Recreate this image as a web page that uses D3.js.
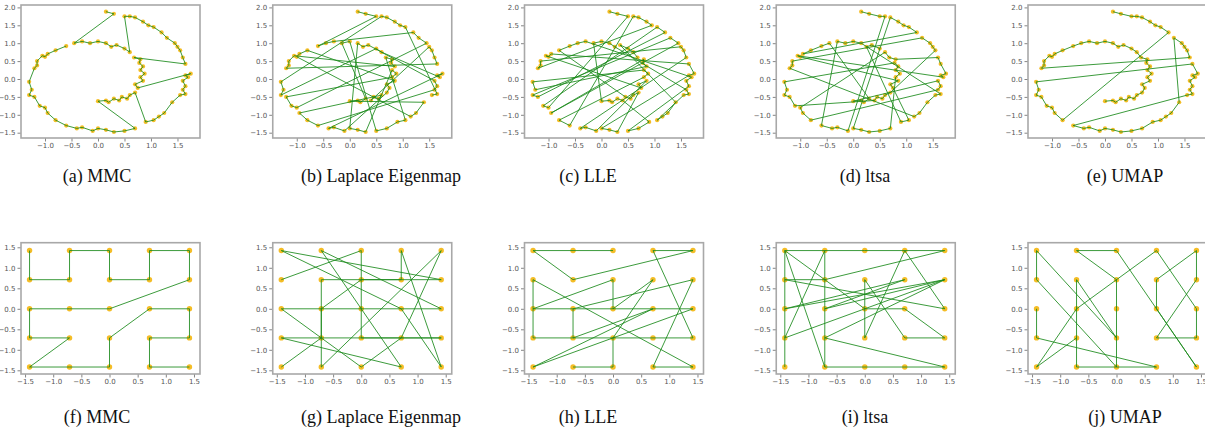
<!DOCTYPE html>
<html>
<head>
<meta charset="utf-8">
<script src="https://d3js.org/d3.v7.min.js"></script>
<style>
  body { margin: 0; background: #fff; }
  .tick text { font-family: "DejaVu Sans", sans-serif; font-size: 7px; fill: #555; }
  .tick line { stroke: #666; stroke-width: 0.8; }
  .frame { fill: none; stroke: #a8a8a8; stroke-width: 1.6; }
  .path { fill: none; stroke: #1a8a1a; stroke-width: 1; stroke-opacity: 0.85; }
  .dot { fill: #f2b200; fill-opacity: 0.85; }
  .caption { font-family: "Liberation Serif", "DejaVu Serif", serif; font-size: 18px; fill: #111; }
</style>
</head>
<body>
<div id="chart"></div>
<script>
// noisy spiral (top row), inner end first
const spiralX = [0.0, 0.15, 0.2, 0.3, 0.4, 0.45, 0.55, 0.6, 0.7, 0.75, 0.7, 0.85, 0.8, 0.88, 0.8, 0.85, 0.78, 0.8, 0.68, 0.6,
  0.5, 0.35, 0.25, 0.15, 0.0, -0.15, -0.3, -0.45, -0.6, -0.8, -0.95, -1.0, -1.05, -1.15, -1.15, -1.2, -1.3, -1.25, -1.3, -1.2,
  -1.1, -1.0, -0.95, -0.8, -0.6, -0.4, -0.3, -0.1, 0.0, 0.15, 0.3, 0.5, 0.7, 0.9, 1.05, 1.15, 1.25, 1.4, 1.55, 1.65,
  1.6, 1.65, 1.6, 1.7, 1.65, 1.75, 1.65, 1.6, 1.55, 1.5, 1.45, 1.3, 1.2, 1.05, 0.95, 0.85, 0.7, 0.6, 0.5, 0.3, 0.15];
const spiralY = [-0.62, -0.6, -0.65, -0.55, -0.6, -0.5, -0.55, -0.45, -0.38, -0.25, -0.15, -0.05, 0.05, 0.15, 0.25, 0.35, 0.45, 0.55, 0.6, 0.75,
  0.85, 0.95, 0.9, 1.0, 1.05, 1.0, 1.05, 1.0, 0.92, 0.8, 0.7, 0.62, 0.65, 0.5, 0.38, 0.3, -0.08, -0.3, -0.45, -0.5,
  -0.75, -0.8, -0.95, -1.15, -1.3, -1.38, -1.35, -1.45, -1.38, -1.42, -1.48, -1.45, -1.38, -1.2, -1.15, -1.05, -0.95, -0.65, -0.45, -0.42,
  -0.3, -0.2, -0.05, 0.05, 0.1, 0.15, 0.42, 0.6, 0.8, 0.9, 1.0, 1.15, 1.3, 1.45, 1.5, 1.6, 1.72, 1.75, 1.75, 1.82, 1.88];

// visiting order of the spiral points, as runs [from, to]
const runsMMC = [[80, 79], [27, 19], [78, 66], [18, 9], [65, 53], [8, 0], [52, 28]];
const runsLaplace = [[80, 78], [28, 26], [72, 70], [41, 39], [12, 14], [50, 48], [23, 21], [62, 60], [44, 42], [7, 4], [69, 66], [35, 32],
  [15, 18], [54, 51], [24, 25], [3, 0], [57, 55], [31, 29], [11, 8], [47, 45], [65, 63], [19, 20], [38, 36], [77, 73], [59, 58]];
const runsLLE = [[80, 78], [41, 40], [73, 72], [39, 38], [71, 70], [42, 42], [17, 15], [37, 36], [14, 12], [43, 44], [77, 74], [35, 33],
  [69, 67], [45, 47], [11, 9], [32, 30], [66, 64], [48, 50], [8, 5], [29, 26], [63, 61], [51, 53], [4, 0], [25, 22], [60, 58], [54, 57], [21, 18]];
const runsLtsa = [[80, 77], [47, 44], [26, 23], [59, 55], [35, 33], [71, 68], [8, 4], [40, 36], [16, 12], [52, 48], [76, 72], [30, 27],
  [3, 0], [62, 60], [43, 41], [19, 17], [67, 63], [32, 31], [11, 9], [54, 53], [22, 20]];
const runsUMAP = [[80, 72], [43, 36], [66, 58], [44, 57], [71, 67], [35, 0]];

// 5x5 grid (bottom row); node id = row * 5 + col
const gridCols = [-1.42, -0.71, 0.0, 0.71, 1.42];
const gridRows = [1.42, 0.71, 0.0, -0.71, -1.42];
const gridMMC = [0, 5, 6, 1, 2, 7, 8, 3, 4, 9, 12, 11, 10, 15, 16, 20, 21, 22, 17, 13, 14, 19, 18, 23, 24];
const gridLaplace = [5, 2, 12, 17, 19, 15, 23, 1, 14, 10, 22, 18, 4, 21, 6, 8, 3, 24, 13, 0, 9, 7, 11, 16, 20];
const gridLLE = [2, 1, 0, 6, 4, 3, 19, 18, 15, 5, 24, 23, 9, 11, 16, 13, 20, 14, 10, 7, 12, 8, 17, 22, 21];
const gridLtsa = [20, 15, 10, 5, 0, 1, 2, 3, 4, 6, 5, 14, 3, 17, 7, 18, 19, 13, 12, 0, 21, 22, 23, 24, 16, 9, 11, 8, 10, 9, 15, 1, 6, 16, 21];
const gridUMAP = [10, 15, 23, 21, 6, 17, 0, 5, 22, 12, 7, 1, 2, 24, 13, 8, 4, 9, 18, 19, 14, 3, 11, 20, 16];

const topLabels = ["(a) MMC", "(b) Laplace Eigenmap", "(c) LLE", "(d) ltsa", "(e) UMAP"];
const bottomLabels = ["(f) MMC", "(g) Laplace Eigenmap", "(h) LLE", "(i) ltsa", "(j) UMAP"];
const labelCenters = [97, 381, 588, 865, 1125];

const topXTicks = [-1.0, -0.5, 0.0, 0.5, 1.0, 1.5];
const topYTicks = [-1.5, -1.0, -0.5, 0.0, 0.5, 1.0, 1.5, 2.0];
const gridTicks = [-1.5, -1.0, -0.5, 0.0, 0.5, 1.0, 1.5];

const W = 1205, H = 436;
const panelW = 179, step = 251.75, left0 = 21;

const svg = d3.select("#chart").append("svg").attr("width", W).attr("height", H);

const fmt = v => d3.format(".1f")(v).replace("-", "\u2212");

function expand(runs) {
  let out = [];
  runs.forEach(([a, b]) => {
    let s = a <= b ? 1 : -1;
    for (let i = a; i !== b + s; i += s) out.push(i);
  });
  return out;
}

function panel(i, top, h, xDom, yDom, xTicks, yTicks, px, py, order, r) {
  let g = svg.append("g").attr("transform", `translate(${left0 + i * step},${top})`);
  let x = d3.scaleLinear().domain(xDom).range([0, panelW]);
  let y = d3.scaleLinear().domain(yDom).range([h, 0]);

  g.append("g").attr("transform", `translate(0,${h})`)
    .call(d3.axisBottom(x).tickValues(xTicks).tickFormat(fmt).tickSize(3.5).tickPadding(2))
    .call(a => a.select(".domain").remove());
  g.append("g")
    .call(d3.axisLeft(y).tickValues(yTicks).tickFormat(fmt).tickSize(3.5).tickPadding(2))
    .call(a => a.select(".domain").remove());

  g.selectAll("circle").data(px).enter().append("circle")
    .attr("class", "dot")
    .attr("cx", d => x(d))
    .attr("cy", (d, k) => y(py[k]))
    .attr("r", r);

  let line = d3.line().x(k => x(px[k])).y(k => y(py[k]));
  g.append("path").attr("class", "path").attr("d", line(order));

  g.append("rect").attr("class", "frame").attr("width", panelW).attr("height", h);
}

// top row
const topOrders = [runsMMC, runsLaplace, runsLLE, runsLtsa, runsUMAP];
topOrders.forEach((runs, i) => {
  panel(i, 5, 133, [-1.453, 1.925], [-1.648, 2.067], topXTicks, topYTicks, spiralX, spiralY, expand(runs), 2.1);
});

// bottom row
const gx = [], gy = [];
gridRows.forEach(r => gridCols.forEach(c => { gx.push(c); gy.push(r); }));
const gridOrders = [gridMMC, gridLaplace, gridLLE, gridLtsa, gridUMAP];
gridOrders.forEach((ord, i) => {
  panel(i, 242.7, 131.3, [-1.572, 1.607], [-1.59, 1.612], gridTicks, gridTicks, gx, gy, ord, 2.7);
});

// captions
topLabels.forEach((t, i) => {
  svg.append("text").attr("class", "caption").attr("x", labelCenters[i]).attr("y", 182)
    .attr("text-anchor", "middle").text(t);
});
bottomLabels.forEach((t, i) => {
  svg.append("text").attr("class", "caption").attr("x", labelCenters[i]).attr("y", 423)
    .attr("text-anchor", "middle").text(t);
});
</script>
</body>
</html>
